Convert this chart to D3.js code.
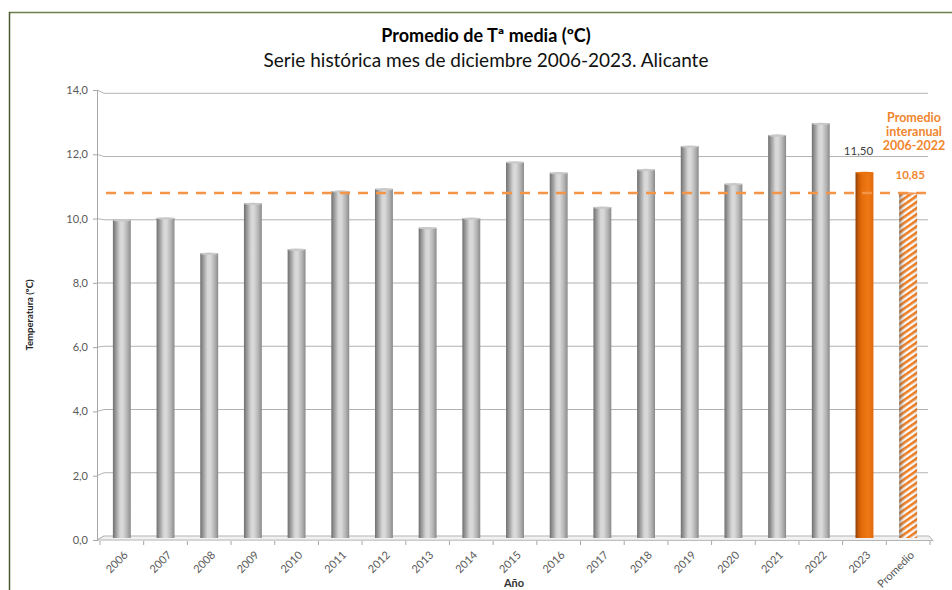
<!DOCTYPE html>
<html>
<head>
<meta charset="utf-8">
<script src="https://cdn.jsdelivr.net/npm/d3@7"></script>
<style>
  html, body { margin: 0; padding: 0; background: #ffffff; }
  svg { display: block; font-family: Lato, "Open Sans", "Liberation Sans", sans-serif; }
</style>
</head>
<body>
<svg id="chart" width="952" height="590"></svg>
<script>
// ---- data ----
const categories = ["2006","2007","2008","2009","2010","2011","2012","2013","2014","2015","2016","2017","2018","2019","2020","2021","2022","2023","Promedio"];
const values = [10.0, 10.06, 8.94, 10.52, 9.07, 10.91, 10.98, 9.75, 10.05, 11.83, 11.49, 10.40, 11.59, 12.33, 11.14, 12.68, 13.05, 11.50, 10.85];
const yTickValues = [0, 2, 4, 6, 8, 10, 12, 14];
const averageValue = 10.85;
const currentLabel = "2023";
const averageLabel = "Promedio";
const titleText = "Promedio de Tª media (ºC)";
const subtitleText = "Serie histórica mes de diciembre 2006-2023. Alicante";
const yAxisTitle = "Temperatura (ºC)";
const xAxisTitle = "Año";
const averageNote = ["Promedio", "interanual", "2006-2022"];

// ---- setup ----
const svg = d3.select("#chart");
const fmt = v => d3.format(".1f")(v).replace(".", ",");
const fmt2 = v => d3.format(".2f")(v).replace(".", ",");

const orangeText = "#F0862E";
const orangeLine = "#F39447";

const defs = svg.append("defs");
const gGrad = defs.append("linearGradient").attr("id", "grayCyl").attr("x1", "0").attr("x2", "1").attr("y1", "0").attr("y2", "0");
[["0%", "#6f6f6f"], ["12%", "#8e8e8e"], ["40%", "#d6d6d6"], ["55%", "#dadada"], ["80%", "#b4b4b4"], ["100%", "#8a8a8a"]]
  .forEach(([o, c]) => gGrad.append("stop").attr("offset", o).attr("stop-color", c));
const oGrad = defs.append("linearGradient").attr("id", "orangeCyl").attr("x1", "0").attr("x2", "1").attr("y1", "0").attr("y2", "0");
[["0%", "#8f4005"], ["18%", "#c95d08"], ["35%", "#e46c0a"], ["70%", "#f07814"], ["100%", "#e06a0c"]]
  .forEach(([o, c]) => oGrad.append("stop").attr("offset", o).attr("stop-color", c));
const shade = defs.append("linearGradient").attr("id", "shadeCyl").attr("x1", "0").attr("x2", "1").attr("y1", "0").attr("y2", "0");
[["0%", "#555", 0.55], ["20%", "#777", 0.2], ["50%", "#fff", 0], ["100%", "#666", 0.15]]
  .forEach(([o, c, op]) => shade.append("stop").attr("offset", o).attr("stop-color", c).attr("stop-opacity", op));
const hatch = defs.append("pattern").attr("id", "hatch").attr("patternUnits", "userSpaceOnUse")
  .attr("width", 5).attr("height", 5).attr("patternTransform", "rotate(-35)");
hatch.append("rect").attr("width", 5).attr("height", 5).attr("fill", "#ffffff");
hatch.append("rect").attr("width", 5).attr("height", 2.6).attr("fill", "#F07A1A");

// frame lines
svg.append("line").attr("x1", 9).attr("x2", 952).attr("y1", 12.5).attr("y2", 12.5).attr("stroke", "#6c7f4e").attr("stroke-width", 1.5);
svg.append("line").attr("x1", 9.5).attr("x2", 9.5).attr("y1", 12).attr("y2", 590).attr("stroke", "#4a5a2c").attr("stroke-width", 1.5);

// titles
svg.append("text").attr("x", 486).attr("y", 42).attr("text-anchor", "middle")
  .attr("font-size", 18).attr("font-weight", "bold").attr("fill", "#000").text(titleText);
svg.append("text").attr("x", 486).attr("y", 67).attr("text-anchor", "middle")
  .attr("font-size", 19).attr("fill", "#111").text(subtitleText);

// scales
const yFront = d3.scaleLinear().domain([0, 14]).range([540, 90]);
const yBack = d3.scaleLinear().domain([0, 14]).range([536, 93.3]);
const x = d3.scaleBand().domain(categories).range([100, 930]).paddingInner(0.59).paddingOuter(0.295);
const step = x.step();

// gridlines (back wall) + connectors
const grid = svg.append("g");
yTickValues.forEach(t => {
  if (t > 0) {
    grid.append("line").attr("x1", 104).attr("x2", 928).attr("y1", yBack(t)).attr("y2", yBack(t))
      .attr("stroke", "#b3b3b3").attr("stroke-width", 1);
  }
  grid.append("line").attr("x1", 97).attr("x2", 104).attr("y1", yFront(t)).attr("y2", yBack(t))
    .attr("stroke", "#b3b3b3").attr("stroke-width", 1);
});

// floor
const floorRight = x.range()[1] + 3;
svg.append("path")
  .attr("d", `M97,${yFront(0)} L104,${yBack(0)} L${floorRight - 4},${yBack(0)} L${floorRight},${yFront(0) + 0.5} Z`)
  .attr("fill", "#f2f2f2").attr("stroke", "#b3b3b3").attr("stroke-width", 1);

// y axis
const yAxis = d3.axisLeft(yFront).tickValues(yTickValues).tickFormat(fmt).tickSize(4).tickPadding(5);
const yg = svg.append("g").attr("transform", "translate(97,0)").call(yAxis);
yg.select(".domain").attr("stroke", "#a6a6a6");
yg.selectAll(".tick line").attr("stroke", "#a6a6a6");
yg.selectAll("text").attr("font-size", 11).attr("fill", "#595959").attr("font-family", "Lato, 'Open Sans', sans-serif");

// x axis labels
const xAxis = d3.axisBottom(x).tickSize(0).tickPadding(0);
const xg = svg.append("g").attr("transform", `translate(0,${yFront(0)})`).call(xAxis);
xg.select(".domain").remove();
xg.selectAll("text")
  .attr("font-size", 11).attr("fill", "#595959").attr("font-family", "Lato, 'Open Sans', sans-serif")
  .attr("text-anchor", "end").attr("x", 0).attr("y", 0).attr("dy", "0.35em")
  .attr("transform", "translate(4,13) rotate(-45)");
// x tick marks at category boundaries
categories.forEach((c, i) => {
  const bx = x(c) + x.bandwidth() / 2 - step / 2;
  svg.append("line").attr("x1", bx).attr("x2", bx).attr("y1", yFront(0) + 1).attr("y2", yFront(0) + 5)
    .attr("stroke", "#a6a6a6");
});
{
  const bx = x(categories[categories.length - 1]) + x.bandwidth() / 2 + step / 2;
  svg.append("line").attr("x1", bx).attr("x2", bx).attr("y1", yFront(0) + 1).attr("y2", yFront(0) + 5).attr("stroke", "#a6a6a6");
}

// bars
const barBottom = 538;
const bars = svg.append("g");
categories.forEach((c, i) => {
  const v = values[i];
  const bx = x(c), bw = x.bandwidth();
  const top = yBack(v);
  let fill = "url(#grayCyl)";
  if (c === currentLabel) fill = "url(#orangeCyl)";
  if (c === averageLabel) fill = "url(#hatch)";
  bars.append("rect").attr("x", bx).attr("y", top).attr("width", bw).attr("height", barBottom - top)
    .attr("fill", fill);
  if (c === averageLabel) {
    bars.append("rect").attr("x", bx).attr("y", top).attr("width", bw).attr("height", barBottom - top)
      .attr("fill", "url(#shadeCyl)");
  }
  bars.append("ellipse").attr("cx", bx + bw / 2).attr("cy", top + 0.5).attr("rx", bw / 2).attr("ry", 1.2)
    .attr("fill", c === currentLabel ? "#e8740f" : (c === averageLabel ? "#f4a060" : "#c8c8c8"));
});

// average dashed line
svg.append("line").attr("x1", 106).attr("x2", 930).attr("y1", yBack(averageValue)).attr("y2", yBack(averageValue))
  .attr("stroke", orangeLine).attr("stroke-width", 2.5).attr("stroke-dasharray", "10,8");

// data labels
const iCur = categories.indexOf(currentLabel);
svg.append("text").attr("x", x(currentLabel) + x.bandwidth() / 2 - 6).attr("y", yBack(values[iCur]) - 17)
  .attr("text-anchor", "middle").attr("font-size", 11.5).attr("fill", "#404040").text(fmt2(values[iCur]));
const iAvg = categories.indexOf(averageLabel);
svg.append("text").attr("x", x(averageLabel) + x.bandwidth() / 2 + 2).attr("y", yBack(values[iAvg]) - 14)
  .attr("text-anchor", "middle").attr("font-size", 11.5).attr("font-weight", "bold").attr("fill", orangeText).text(fmt2(values[iAvg]));
averageNote.forEach((t, k) => {
  svg.append("text").attr("x", 914).attr("y", 122 + k * 14).attr("text-anchor", "middle")
    .attr("font-size", 12.5).attr("font-weight", "bold").attr("fill", orangeText).text(t);
});

// axis titles
svg.append("text").attr("transform", "translate(33,315) rotate(-90)").attr("text-anchor", "middle")
  .attr("font-size", 9.5).attr("font-weight", "bold").attr("fill", "#222").text(yAxisTitle);
svg.append("text").attr("x", 514).attr("y", 587).attr("text-anchor", "middle")
  .attr("font-size", 11).attr("font-weight", "bold").attr("fill", "#333").text(xAxisTitle);
</script>
</body>
</html>
